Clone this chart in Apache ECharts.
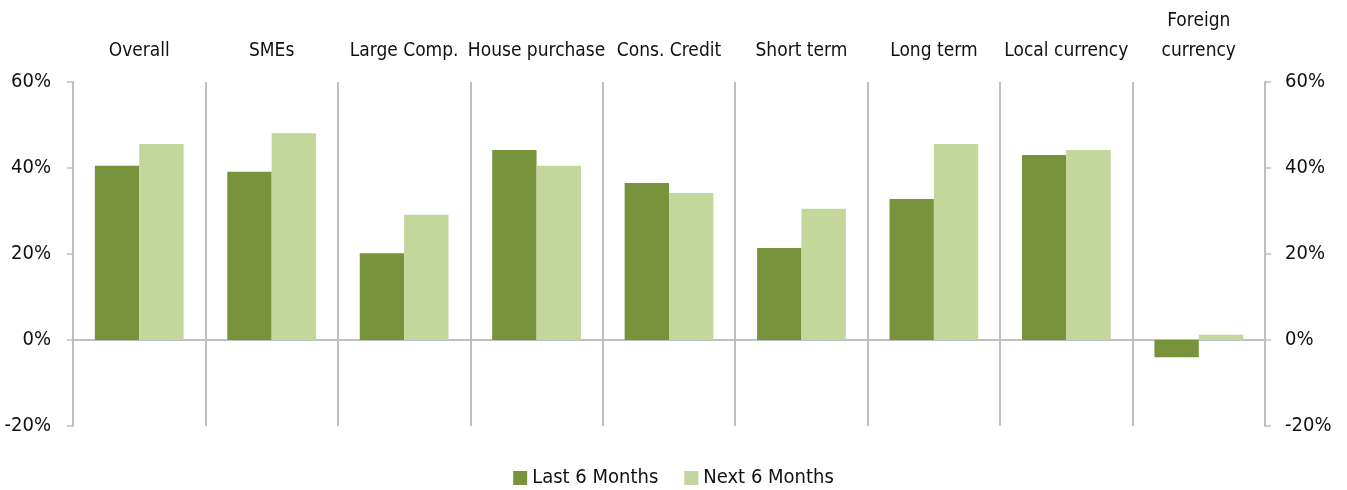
<!DOCTYPE html>
<html><head><meta charset="utf-8">
<script src="https://cdn.jsdelivr.net/npm/echarts@6/dist/echarts.min.js"></script>
<style>html,body{margin:0;padding:0;background:#fff}#c{width:1347px;height:490px}</style>
</head><body><div id="c"></div>
<script>
const categories = ['Overall','SMEs','Large Comp.','House purchase','Cons. Credit','Short term','Long term','Local currency','Foreign\ncurrency'];
const last6 = [40.5, 39.1, 20.2, 44.2, 36.5, 21.4, 32.8, 43.0, -4.0];
const next6 = [45.6, 48.1, 29.1, 40.5, 34.2, 30.5, 45.6, 44.2, 1.2];
const seriesNames = ['Last 6 Months','Next 6 Months'];
const FONT = '"Liberation Sans Narrow","DejaVu Sans Condensed","Roboto Condensed",sans-serif';
const GRAY = '#BFBFBF';
const TXT = '#111';
const chart = echarts.init(document.getElementById('c'));
const yAx = (pos) => ({
  type:'value', position:pos, min:-20, max:60, interval:20,
  axisLine:{show:true, lineStyle:{color:GRAY, width:2}},
  axisTick:{show:true, length:6, lineStyle:{color:GRAY, width:1.5}},
  axisLabel:{formatter:'{value}%', fontFamily:FONT, fontSize:20, color:TXT, margin:pos==='left'?22:20},
  splitLine:{show:false}
});
chart.setOption({
  animation:false,
  grid:{left:73, right:82, top:82, bottom:64, containLabel:false},
  legend:{bottom:-3, left:'center', itemWidth:14, itemHeight:14, itemGap:26, icon:'rect',
    textStyle:{fontFamily:FONT, fontSize:20, color:TXT}, data:seriesNames},
  xAxis:[
    {type:'category', data:categories, position:'bottom',
      axisLine:{show:true, onZero:true, lineStyle:{color:GRAY, width:2}},
      axisTick:{show:false}, axisLabel:{show:false},
      splitLine:{show:true, lineStyle:{color:GRAY, width:2}}},
    {type:'category', data:categories, position:'top',
      axisLine:{show:false, onZero:false}, axisTick:{show:false},
      axisLabel:{show:true, interval:0, fontFamily:FONT, fontSize:19, color:TXT, margin:16, lineHeight:30},
      splitLine:{show:false}}
  ],
  yAxis:[yAx('left'), yAx('right')],
  series:[
    {name:seriesNames[0], type:'bar', data:last6, barGap:'0%', barCategoryGap:'33%',
      itemStyle:{color:'#77933C'}},
    {name:seriesNames[1], type:'bar', data:next6, barGap:'0%', barCategoryGap:'33%',
      itemStyle:{color:'#C3D69B'}}
  ]
});
</script></body></html>
